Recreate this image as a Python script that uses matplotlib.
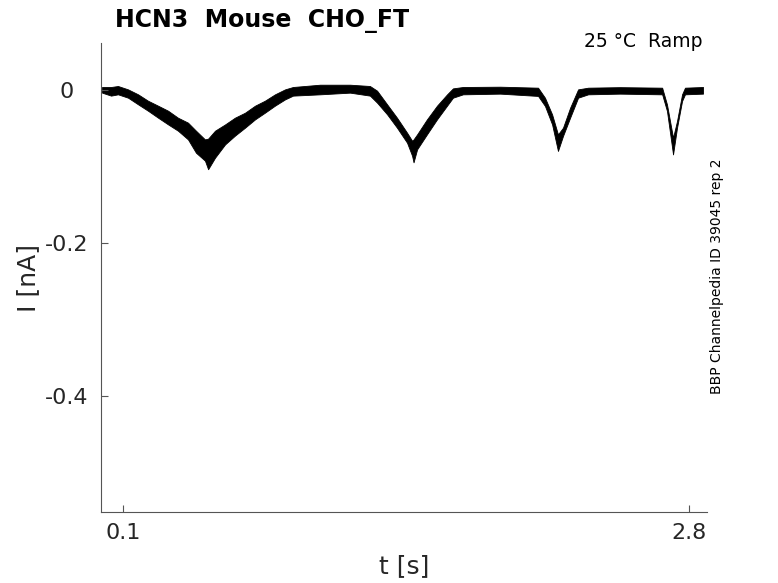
import matplotlib
matplotlib.use('Agg')
import matplotlib.pyplot as plt

plt.rcParams['font.family'] = ['DejaVu Sans']
plt.rcParams['axes.unicode_minus'] = False

time_s = [0.000, 0.043, 0.076, 0.124, 0.172, 0.219, 0.267, 0.315, 0.362,
          0.410, 0.448, 0.491, 0.506, 0.539, 0.587, 0.634, 0.682, 0.730,
          0.777, 0.825, 0.873, 0.911, 1.040, 1.183, 1.278, 1.312, 1.360,
          1.407, 1.455, 1.479, 1.486, 1.503, 1.550, 1.598, 1.646, 1.674,
          1.722, 1.899, 2.080, 2.113, 2.147, 2.175, 2.199, 2.233, 2.271,
          2.319, 2.471, 2.672, 2.695, 2.724, 2.743, 2.767, 2.781, 2.867]
i_upper = [0.0035, 0.0035, 0.0048, 0.0004, -0.0061, -0.0144, -0.0209,
           -0.0275, -0.0366, -0.0431, -0.0536, -0.0650, -0.0640, -0.0536,
           -0.0454, -0.0366, -0.0301, -0.0209, -0.0144, -0.0061, 0.0004,
           0.0035, 0.0065, 0.0065, 0.0048, -0.0013, -0.0192, -0.0366,
           -0.0562, -0.0667, -0.0650, -0.0584, -0.0388, -0.0209, -0.0061,
           0.0017, 0.0035, 0.0039, 0.0026, -0.0105, -0.0323, -0.0584,
           -0.0497, -0.0235, 0.0004, 0.0026, 0.0033, 0.0026, -0.0192,
           -0.0627, -0.0409, -0.0061, 0.0026, 0.0035]
i_lower = [-0.0039, -0.0078, -0.0061, -0.0105, -0.0192, -0.0275, -0.0366,
           -0.0454, -0.0536, -0.0650, -0.0824, -0.0928, -0.1040, -0.0889,
           -0.0715, -0.0601, -0.0497, -0.0388, -0.0301, -0.0209, -0.0127,
           -0.0078, -0.0061, -0.0039, -0.0078, -0.0170, -0.0323, -0.0497,
           -0.0693, -0.0863, -0.0950, -0.0780, -0.0584, -0.0388, -0.0209,
           -0.0105, -0.0061, -0.0052, -0.0082, -0.0213, -0.0454, -0.0801,
           -0.0605, -0.0366, -0.0105, -0.0061, -0.0052, -0.0061, -0.0278,
           -0.0846, -0.0497, -0.0148, -0.0061, -0.0052]

x_ticks = [0.1, 2.8]
x_tick_labels = ['0.1', '2.8']
y_ticks = [0, -0.2, -0.4]
y_tick_labels = ['0', '-0.2', '-0.4']

text_color = '#262626'

fig = plt.figure(figsize=(7.78, 5.83), dpi=100)
ax = fig.add_axes([101 / 778, 71 / 583, 606 / 778, 469 / 583])

ax.fill_between(time_s, i_lower, i_upper, color='black', linewidth=0.6,
                edgecolor='black')

ax.set_xlim(-0.005, 2.886)
ax.set_ylim(-0.552, 0.061)

for side in ['top', 'right']:
    ax.spines[side].set_visible(False)
for side in ['bottom', 'left']:
    ax.spines[side].set_color('#555555')
    ax.spines[side].set_linewidth(0.8)

ax.set_xticks(x_ticks)
ax.set_xticklabels(x_tick_labels)
ax.set_yticks(y_ticks)
ax.set_yticklabels(y_tick_labels, ha='center')
ax.tick_params(axis='both', direction='in', length=5, width=0.8,
               colors='#555555', labelcolor=text_color, labelsize=16)
ax.tick_params(axis='x', pad=8)
ax.tick_params(axis='y', pad=25)

ax.set_xlabel('t [s]', fontsize=18, color=text_color, labelpad=8)
ax.set_ylabel('I [nA]', fontsize=18, color=text_color, labelpad=3)

fig.text(115 / 778, 1 - 27 / 583, 'HCN3  Mouse  CHO_FT', fontsize=17,
         fontweight='bold', color='black', ha='left', va='baseline')
fig.text(703 / 778, 1 - 47 / 583, '25 °C  Ramp', fontsize=13.5,
         color='black', ha='right', va='baseline')
fig.text(717 / 778, 1 - 276 / 583, 'BBP Channelpedia ID 39045 rep 2',
         fontsize=10, color='black', rotation=90, ha='center', va='center')

fig.savefig('out.png', dpi=100)
plt.close(fig)
